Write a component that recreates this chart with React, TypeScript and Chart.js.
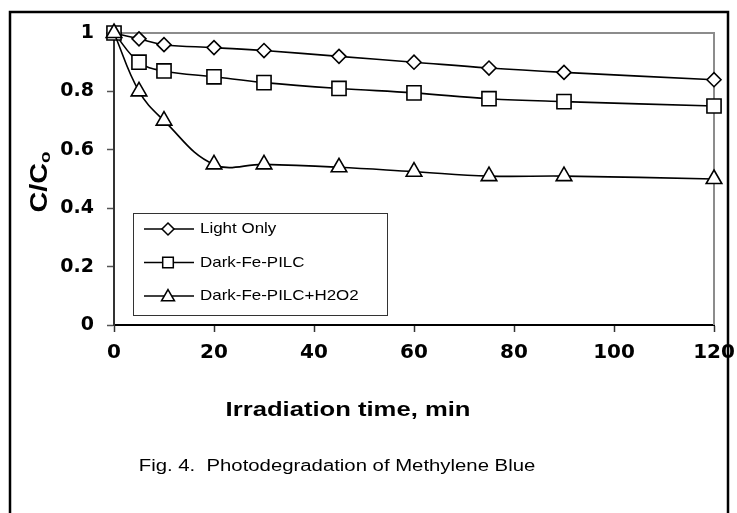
import React, { useEffect, useRef } from 'react';
import { Chart, registerables } from 'chart.js';

Chart.register(...registerables);

// ---- data ----
const timeMin = [0, 5, 10, 20, 30, 45, 60, 75, 90, 120];
const lightOnly = [1, 0.98, 0.96, 0.95, 0.94, 0.92, 0.9, 0.88, 0.865, 0.84];
const darkFePILC = [1, 0.9, 0.87, 0.85, 0.83, 0.81, 0.795, 0.775, 0.765, 0.75];
const darkFePILCH2O2 = [1, 0.8, 0.7, 0.55, 0.55, 0.54, 0.525, 0.51, 0.51, 0.5];
const seriesLabels = ['Light Only', 'Dark-Fe-PILC', 'Dark-Fe-PILC+H2O2'];
const xTickLabels = ['0', '20', '40', '60', '80', '100', '120'];
const yTickLabels = ['0', '0.2', '0.4', '0.6', '0.8', '1'];
const xTitle = 'Irradiation time, min';
const yTitleMain = 'C/C';
const yTitleSub = 'o';
const caption = 'Fig. 4.  Photodegradation of Methylene Blue';

const W = 737;
const H = 513;
const LEFT = 114;
const TOP = 33;
const RIGHT = 714;
const BOTTOM = 325;
const SANS = '"Liberation Sans", Arial, sans-serif';
const TICKFONT = '"DejaVu Sans", "Liberation Sans", sans-serif';

function drawMarker(ctx: CanvasRenderingContext2D, style: string, x: number, y: number, r: number) {
  ctx.beginPath();
  if (style === 'rectRot') {
    ctx.moveTo(x, y - r);
    ctx.lineTo(x + r, y);
    ctx.lineTo(x, y + r);
    ctx.lineTo(x - r, y);
    ctx.closePath();
  } else if (style === 'rect') {
    const s = r * Math.SQRT1_2;
    ctx.rect(x - s, y - s, 2 * s, 2 * s);
  } else {
    const a = (2 * Math.PI) / 3;
    ctx.moveTo(x, y - r);
    ctx.lineTo(x + Math.sin(a) * r, y - Math.cos(a) * r);
    ctx.lineTo(x + Math.sin(2 * a) * r, y - Math.cos(2 * a) * r);
    ctx.closePath();
  }
  ctx.fillStyle = '#fff';
  ctx.fill();
  ctx.stroke();
}

function stretchedText(ctx: CanvasRenderingContext2D, text: string, x: number, y: number, sx: number) {
  ctx.save();
  ctx.translate(x, y);
  ctx.scale(sx, 1);
  ctx.fillText(text, 0, 0);
  ctx.restore();
}

export default function App() {
  const ref = useRef<HTMLCanvasElement>(null);

  useEffect(() => {
    document.body.style.margin = '0';
    const canvas = ref.current;
    if (!canvas) return;

    const styles = ['rectRot', 'rect', 'triangle'];
    const radii = [7, 10, 9];
    const values = [lightOnly, darkFePILC, darkFePILCH2O2];
    const orders = [2, 1, 0];

    const datasets = values.map((vals, i) => ({
      label: seriesLabels[i],
      data: timeMin.map((t, j) => ({ x: t, y: vals[j] })),
      borderColor: '#000',
      backgroundColor: '#fff',
      borderWidth: 1.6,
      pointStyle: styles[i],
      pointRadius: radii[i],
      pointHoverRadius: radii[i],
      pointBorderWidth: 1.6,
      pointBackgroundColor: '#fff',
      pointBorderColor: '#000',
      tension: 0.4,
      fill: false,
      clip: false as const,
      order: orders[i],
    }));

    const decor = {
      id: 'decor',
      beforeDatasetsDraw(chart: any) {
        const ctx = chart.ctx as CanvasRenderingContext2D;
        const a = chart.chartArea;
        ctx.save();
        ctx.strokeStyle = '#8c8c8c';
        ctx.lineWidth = 2;
        ctx.beginPath();
        ctx.moveTo(a.left, a.top);
        ctx.lineTo(a.right, a.top);
        ctx.lineTo(a.right, a.bottom);
        ctx.stroke();
        ctx.restore();
      },
      afterDraw(chart: any) {
        const ctx = chart.ctx as CanvasRenderingContext2D;
        ctx.save();
        // legend box
        const bx = 133, by = 213, bw = 254, bh = 102;
        ctx.fillStyle = '#fff';
        ctx.fillRect(bx, by, bw, bh);
        ctx.strokeStyle = '#333';
        ctx.lineWidth = 1;
        ctx.strokeRect(bx + 0.5, by + 0.5, bw, bh);
        const legendR = [6, 7.5, 7.5];
        seriesLabels.forEach((lab, i) => {
          const y = 229 + i * 33.5;
          ctx.strokeStyle = '#000';
          ctx.lineWidth = 1.5;
          ctx.beginPath();
          ctx.moveTo(144, y);
          ctx.lineTo(194, y);
          ctx.stroke();
          drawMarker(ctx, styles[i], 168, i === 2 ? y + 1 : y, legendR[i]);
          ctx.fillStyle = '#000';
          ctx.font = `15px ${SANS}`;
          ctx.textAlign = 'left';
          ctx.textBaseline = 'middle';
          stretchedText(ctx, lab, 200, y, 1.13);
        });

        // x title
        ctx.fillStyle = '#000';
        ctx.font = `bold 21px ${SANS}`;
        ctx.textAlign = 'center';
        ctx.textBaseline = 'middle';
        stretchedText(ctx, xTitle, 348, 410, 1.22);

        // caption
        ctx.font = `16px ${SANS}`;
        stretchedText(ctx, caption, 337, 467, 1.27);

        // y title (rotated)
        ctx.save();
        ctx.translate(47, 182);
        ctx.rotate(-Math.PI / 2);
        ctx.scale(1.25, 1);
        ctx.font = `bold 23px ${SANS}`;
        const mw = ctx.measureText(yTitleMain).width;
        ctx.font = `bold 15px ${SANS}`;
        const sw = ctx.measureText(yTitleSub).width;
        const total = mw + sw;
        ctx.textAlign = 'left';
        ctx.textBaseline = 'alphabetic';
        ctx.font = `bold 23px ${SANS}`;
        ctx.fillText(yTitleMain, -total / 2, 0);
        ctx.font = `bold 15px ${SANS}`;
        ctx.fillText(yTitleSub, -total / 2 + mw, 3);
        ctx.restore();

        // outer frame
        ctx.strokeStyle = '#000';
        ctx.lineWidth = 2.5;
        ctx.beginPath();
        ctx.moveTo(10, H + 5);
        ctx.lineTo(10, 12);
        ctx.lineTo(728, 12);
        ctx.lineTo(728, H + 5);
        ctx.stroke();
        ctx.restore();
      },
    };

    const chart = new Chart(canvas, {
      type: 'line',
      data: { datasets: datasets as any },
      plugins: [decor],
      options: {
        animation: false,
        responsive: false,
        events: [],
        layout: { autoPadding: false, padding: { left: 0, top: TOP, right: W - RIGHT, bottom: 0 } },
        plugins: { legend: { display: false }, tooltip: { enabled: false }, title: { display: false } },
        scales: {
          x: {
            type: 'linear',
            min: 0,
            max: 120,
            ticks: {
              stepSize: 20,
              color: '#000',
              font: { family: TICKFONT, size: 20, weight: 'bold' },
              padding: 9,
              maxRotation: 0,
              autoSkip: false,
              callback: (_v: any, i: number) => xTickLabels[i],
            },
            grid: { drawOnChartArea: false, drawTicks: true, tickLength: 7, tickColor: '#333', tickWidth: 1.5 },
            border: { color: '#000', width: 2 },
            afterFit: (s: any) => {
              s.height = H - BOTTOM;
              s.paddingLeft = 0;
              s.paddingRight = 0;
            },
          },
          y: {
            type: 'linear',
            min: 0,
            max: 1,
            ticks: {
              stepSize: 0.2,
              color: '#000',
              font: { family: TICKFONT, size: 19, weight: 'bold' },
              padding: 13,
              callback: (_v: any, i: number) => yTickLabels[i],
            },
            grid: { drawOnChartArea: false, drawTicks: true, tickLength: 7, tickColor: '#555', tickWidth: 1.5 },
            border: { color: '#333', width: 2 },
            afterFit: (s: any) => {
              s.width = LEFT;
              s.paddingTop = 0;
              s.paddingBottom = 0;
            },
          },
        },
      } as any,
    });

    return () => chart.destroy();
  }, []);

  return (
    <div style={{ position: 'absolute', left: 0, top: 0, width: W, height: H }}>
      <canvas ref={ref} width={W} height={H} style={{ display: 'block', width: W, height: H }} />
    </div>
  );
}
